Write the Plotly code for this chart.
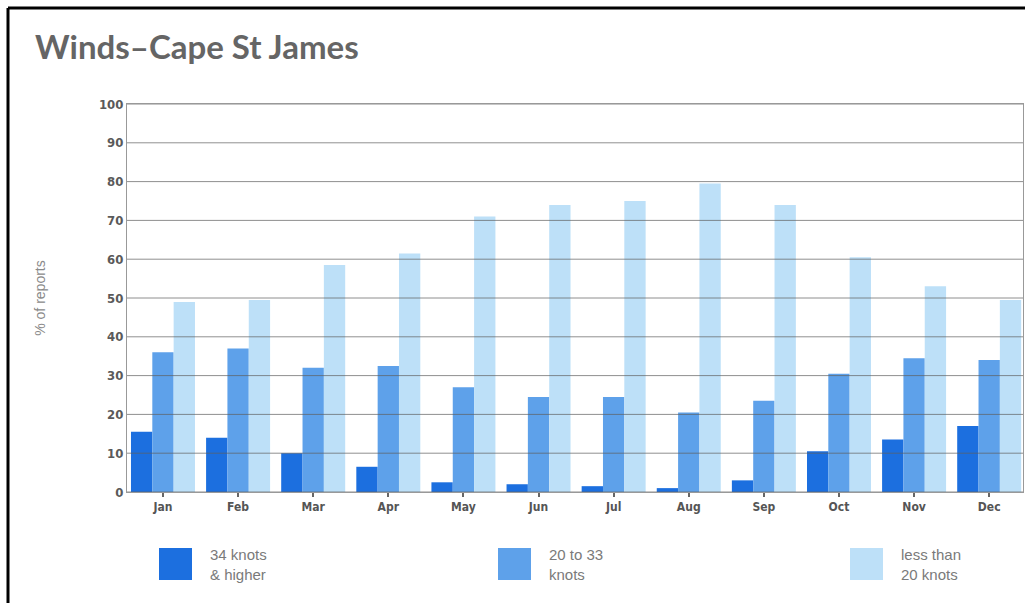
import plotly.graph_objects as go

months = ["Jan", "Feb", "Mar", "Apr", "May", "Jun", "Jul", "Aug", "Sep", "Oct", "Nov", "Dec"]
strong = [15.5, 14, 10, 6.5, 2.5, 2, 1.5, 1, 3, 10.5, 13.5, 17]
moderate = [36, 37, 32, 32.5, 27, 24.5, 24.5, 20.5, 23.5, 30.5, 34.5, 34]
light = [49, 49.5, 58.5, 61.5, 71, 74, 75, 79.5, 74, 60.5, 53, 49.5]
series_names = ["34 knots<br>& higher", "20 to 33<br>knots", "less than<br>20 knots"]
colors = ["#1c6fdf", "#5ea1ea", "#bde0f8"]
yticks = [0, 10, 20, 30, 40, 50, 60, 70, 80, 90, 100]

W, H = 1025, 603
L, R, T, B = 127, 1023, 104, 492
pw, ph = R - L, B - T

def px(x):
    return (x - L) / pw

def py(y):
    return (B - y) / ph

xs = list(range(len(months)))
fig = go.Figure()
for vals, c, n in zip([strong, moderate, light], colors, series_names):
    fig.add_trace(go.Bar(x=xs, y=vals, marker=dict(color=c, line=dict(width=0)), name=n, showlegend=False))

shapes = []
for v in yticks:
    shapes.append(dict(type="line", xref="paper", yref="y", x0=0, x1=1, y0=v, y1=v,
                       line=dict(color="rgba(95,95,95,0.7)", width=1), layer="above"))
# frame border
shapes.append(dict(type="line", xref="paper", yref="paper", x0=px(8), x1=px(1026), y0=py(8), y1=py(8),
                   line=dict(color="black", width=3)))
shapes.append(dict(type="line", xref="paper", yref="paper", x0=px(8), x1=px(8), y0=py(8), y1=py(604),
                   line=dict(color="black", width=3)))

annotations = []
leg_x = [159, 498, 850]
for lx, c, n in zip(leg_x, colors, series_names):
    shapes.append(dict(type="rect", xref="paper", yref="paper", x0=px(lx), x1=px(lx + 33),
                       y0=py(548), y1=py(580), fillcolor=c, line=dict(width=0)))
    annotations.append(dict(xref="paper", yref="paper", x=px(lx + 49), y=py(564), text=n,
                            showarrow=False, xanchor="left", yanchor="middle", align="left",
                            font=dict(family="Liberation Sans, Arial", size=15, color="#7a7a7a")))

annotations.append(dict(xref="paper", yref="paper", x=px(33), y=py(46), text="<b>Winds–Cape St James</b>",
                        showarrow=False, xanchor="left", yanchor="middle",
                        font=dict(family="Lato", size=33, color="#656565")))

fig.update_layout(
    width=W, height=H,
    margin=dict(l=L, r=W - R, t=T, b=H - B, pad=0),
    paper_bgcolor="white", plot_bgcolor="white",
    barmode="group", bargap=0.148, bargroupgap=0,
    shapes=shapes, annotations=annotations,
    xaxis=dict(range=[-0.479, 11.45], tickvals=xs, ticktext=["<b>%s</b>" % m for m in months], showgrid=False,
               ticks="outside", ticklen=4, tickcolor="#666", tickwidth=2,
               showline=True, linecolor="#999", linewidth=1, mirror=True, zeroline=False,
               tickfont=dict(family="DejaVu Sans Condensed", size=12, color="#555")),
    yaxis=dict(range=[0, 100], tickvals=yticks, ticktext=["<b>%d</b>" % v for v in yticks],
               showgrid=False, zeroline=False,
               showline=True, linecolor="#999", linewidth=1, mirror=True, ticks="",
               tickfont=dict(family="DejaVu Sans Condensed", size=13, color="#5a5a5a"),
               title=dict(text="% of reports", standoff=50,
                          font=dict(family="Liberation Sans, Arial", size=14, color="#8a8a8a"))),
)

fig.write_html("out.html")
